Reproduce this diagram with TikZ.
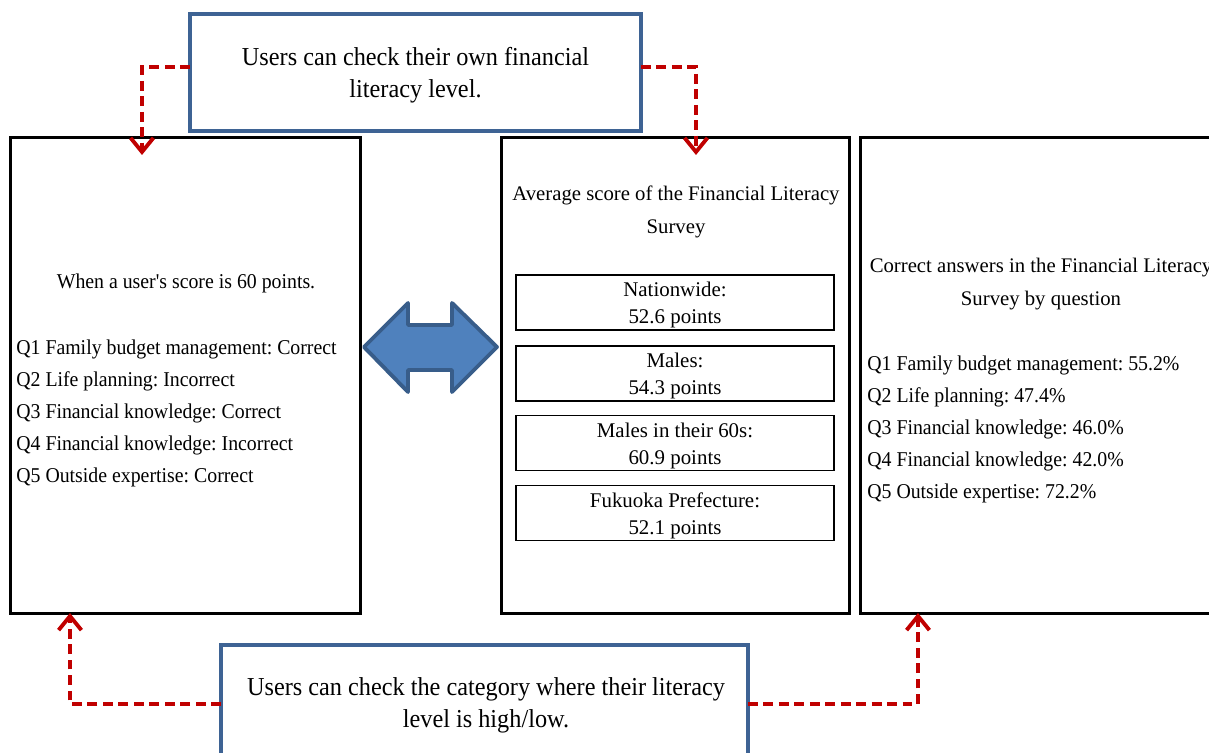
\documentclass[tikz,border=0pt]{standalone}
\usepackage{fontspec}
\setmainfont{Liberation Serif}
\newfontfamily\tnr{Liberation Serif}
\newfontfamily\tnrc[FakeStretch=0.94]{Liberation Serif}
\usetikzlibrary{arrows.meta}
\definecolor{boxblue}{HTML}{3E6394}
\definecolor{arrfill}{HTML}{4F81BD}
\definecolor{arrline}{HTML}{385D8A}
\definecolor{dred}{HTML}{C00000}
\tikzset{
  bigbox/.style={draw=black, line width=1.7pt},
  bluebox/.style={draw=boxblue, line width=1.8pt, fill=white},
  subbox/.style={draw=black, line width=1.1pt, minimum width=6.36cm, minimum height=1.1cm, inner sep=0pt},
  subtxt/.style={inner sep=0pt, align=center, font=\tnr\frenchspacing\fontsize{11.9pt}{15.4pt}\selectfont},
  bodytxt/.style={inner sep=0pt, font=\tnrc\frenchspacing\fontsize{12pt}{18.1pt}\selectfont},
  titletxt/.style={inner sep=0pt, align=center, font=\tnr\frenchspacing\fontsize{11.8pt}{18.7pt}\selectfont},
  bigtxt/.style={inner sep=0pt, align=center, font=\tnrc\frenchspacing\fontsize{14.7pt}{18.2pt}\selectfont},
  redlink/.style={draw=dred, line width=2.2pt, dash pattern=on 5.6pt off 3.2pt, -{Straight Barb[length=8pt,width=13pt]}},
}
\begin{document}
\begin{tikzpicture}[x=0.02cm, y=-0.02cm]
\useasboundingbox (0,0) rectangle (1209,753);
\begin{scope}
\clip (0,0) rectangle (1209,753);
% main boxes
\node[bigbox, minimum width=7.02cm, minimum height=9.54cm, inner sep=0pt] (lbox) at (185.5,375.5) {};
\node[bigbox, minimum width=6.98cm, minimum height=9.54cm, inner sep=0pt] (mbox) at (675.5,375.5) {};
\node[bigbox, minimum width=7.30cm, minimum height=9.54cm, inner sep=0pt] (rbox) at (1043,375.5) {};
% blue boxes
\node[bluebox, minimum width=9.02cm, minimum height=2.34cm, inner sep=0pt] (top) at (415.5,72.5) {};
\node[bluebox, minimum width=10.54cm, minimum height=2.6cm, inner sep=0pt] (bot) at (484.5,710) {};
\node[bigtxt] (toptxt) at (415.5,75) {Users can check their own financial\\literacy level.};
\node[bigtxt] (bottxt) at (486,705) {Users can check the category where their literacy\\level is high/low.};
% left box text
\node[bodytxt] (ltitle) at (186,283) {When a user's score is 60 points.};
\node[bodytxt, anchor=north west, align=left] (lq) at (16,340) {Q1 Family budget management: Correct\\Q2 Life planning: Incorrect\\Q3 Financial knowledge: Correct\\Q4 Financial knowledge: Incorrect\\Q5 Outside expertise: Correct};
% middle box text
\node[titletxt] (mtitle) at (676,212) {Average score of the Financial Literacy\\Survey};
\node[subbox] (s1) at (675,302.5) {};
\node[subbox] (s2) at (675,373.5) {};
\node[subbox] (s3) at (675,443) {};
\node[subbox] (s4) at (675,513) {};
\node[subtxt] (s1t) at (675,305) {Nationwide:\\52.6 points};
\node[subtxt] (s2t) at (675,376) {Males:\\54.3 points};
\node[subtxt] (s3t) at (675,445.5) {Males in their 60s:\\60.9 points};
\node[subtxt] (s4t) at (675,515.5) {Fukuoka Prefecture:\\52.1 points};
% right box text
\node[titletxt] (rtitle) at (1041,284) {Correct answers in the Financial Literacy\\Survey by question};
\node[bodytxt, anchor=north west, align=left] (rq) at (867,356) {Q1 Family budget management: 55.2\%\\Q2 Life planning: 47.4\%\\Q3 Financial knowledge: 46.0\%\\Q4 Financial knowledge: 42.0\%\\Q5 Outside expertise: 72.2\%};
% double arrow
\draw[fill=arrfill, draw=arrline, line width=2.2pt, line join=round]
  (364,347) -- (408,303) -- (408,325) -- (452,325) -- (452,303) -- (497,347)
  -- (452,392) -- (452,370) -- (408,370) -- (408,392) -- cycle;
% connectors
\coordinate (tl) at (142,155);
\coordinate (tr) at (696,155);
\coordinate (bl) at (70,613);
\coordinate (br) at (918,613);
\coordinate (bw) at (221,704);
\coordinate (be) at (748,704);
\coordinate (tw) at (190,67);
\coordinate (te) at (641,67);
\draw[redlink] (tw) -| (tl);
\draw[redlink] (te) -| (tr);
\draw[redlink] (bw) -| (bl);
\draw[redlink] (be) -| (br);
\end{scope}
\end{tikzpicture}
\end{document}
